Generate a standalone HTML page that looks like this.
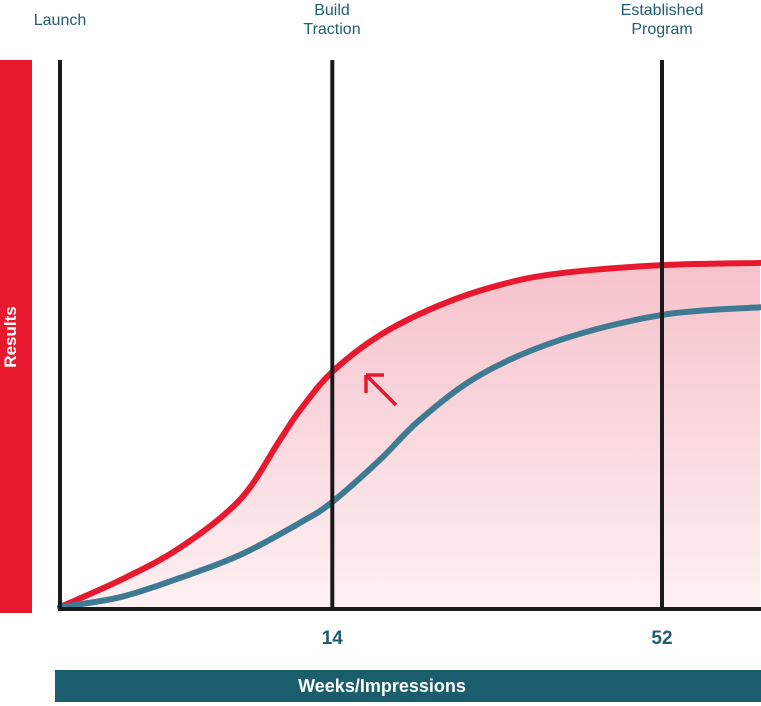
<!DOCTYPE html>
<html><head><meta charset="utf-8"><style>
html,body{margin:0;padding:0;background:#fff;}
svg{display:block;font-family:"Liberation Sans",sans-serif;}
</style></head><body>
<svg width="761" height="706" viewBox="0 0 761 706" id="chart">
<defs>
<linearGradient id="fillg" x1="0" y1="0" x2="0" y2="1">
<stop offset="0" stop-color="#f6c2cb"/><stop offset="1" stop-color="#fdf0f2"/>
</linearGradient>
</defs>
<g id="fills"></g>
<rect x="0" y="60" width="32" height="553" fill="#e8192f"/>
<text x="16" y="337" fill="#fff" font-size="17" font-weight="bold" text-anchor="middle" transform="rotate(-90 16 337)">Results</text>
<rect x="55" y="670" width="706" height="32" fill="#1a5e6d"/>
<text x="382" y="692" fill="#fff" font-size="18" font-weight="bold" text-anchor="middle">Weeks/Impressions</text>
<text x="60" y="25" fill="#1f5d70" font-size="16" text-anchor="middle">Launch</text>
<text x="332" y="15" fill="#1f5d70" font-size="16" text-anchor="middle">Build</text>
<text x="332" y="34" fill="#1f5d70" font-size="16" text-anchor="middle">Traction</text>
<text x="662" y="15" fill="#1f5d70" font-size="16" text-anchor="middle">Established</text>
<text x="662" y="34" fill="#1f5d70" font-size="16" text-anchor="middle">Program</text>
<g id="lines"></g>
<g id="axes"></g>
<path d="M396 405 L366 375 M366 375 L384 375 M366 375 L366 393" stroke="#e8192f" stroke-width="3.5" fill="none"/>
</svg>
<script>
const redX=[0,8.6,17.1,25.7,31.4,34.3,38.9,45.7,54.3,62.9,71.4,86,100];
const redY=[0,4.9,10.8,19.6,30.5,36,43,49.7,55.2,58.9,61,62.5,62.9];
const blueX=[0,8.6,17.1,25.7,34.3,38.9,45.7,51.4,60,71.4,86,100];
const blueY=[0,1.8,5.3,9.5,15.4,19.2,26.9,34.2,42.4,48.8,53.4,54.8];
const markerX=[0,38.9,86];
const markerLabels=["","14","52"];
const sx=v=>60+7*v, sy=v=>607-5.47*v;
const NS="http://www.w3.org/2000/svg";
function pathD(xs,ys){
  const p=xs.map((x,i)=>[sx(x),sy(ys[i])]);
  let d="M"+p[0][0]+" "+p[0][1];
  for(let i=0;i<p.length-1;i++){
    const p0=p[Math.max(i-1,0)],p1=p[i],p2=p[i+1],p3=p[Math.min(i+2,p.length-1)];
    const c1=[p1[0]+(p2[0]-p0[0])/6,p1[1]+(p2[1]-p0[1])/6];
    const c2=[p2[0]-(p3[0]-p1[0])/6,p2[1]-(p3[1]-p1[1])/6];
    d+=` C${c1[0]} ${c1[1]} ${c2[0]} ${c2[1]} ${p2[0]} ${p2[1]}`;
  }
  return d;
}
const fills=document.getElementById('fills'),lines=document.getElementById('lines'),axes=document.getElementById('axes');
const area=document.createElementNS(NS,'path');
area.setAttribute('d',pathD(redX,redY)+` L${sx(redX[redX.length-1])} ${sy(0)} L${sx(0)} ${sy(0)} Z`);
area.setAttribute('fill','url(#fillg)');


fills.appendChild(area);
markerX.forEach((m,i)=>{
  const l=document.createElementNS(NS,'line');
  l.setAttribute('x1',sx(m));l.setAttribute('x2',sx(m));l.setAttribute('y1',60);l.setAttribute('y2',611);
  l.setAttribute('stroke','#1a1a1a');l.setAttribute('stroke-width',4);
  
  
  axes.appendChild(l);
  if(markerLabels[i]){
    const t=document.createElementNS(NS,'text');
    t.setAttribute('x',sx(m));t.setAttribute('y',644);t.setAttribute('text-anchor','middle');
    t.setAttribute('font-size','19');t.setAttribute('font-weight','bold');t.setAttribute('fill','#1f5d70');
    t.textContent=markerLabels[i];
    
    
    axes.appendChild(t);
  }
});
const base=document.createElementNS(NS,'line');
base.setAttribute('x1',58);base.setAttribute('x2',761);base.setAttribute('y1',609);base.setAttribute('y2',609);
base.setAttribute('stroke','#1a1a1a');base.setAttribute('stroke-width',4);


axes.appendChild(base);
[[redX,redY,'#e8192f','red-series-line'],[blueX,blueY,'#3f7a93','blue-series-line']].forEach(s=>{
  const p=document.createElementNS(NS,'path');
  p.setAttribute('d',pathD(s[0],s[1]));p.setAttribute('fill','none');
  p.setAttribute('stroke',s[2]);p.setAttribute('stroke-width',6);p.setAttribute('stroke-linecap','round');
  
  
  lines.appendChild(p);
});
</script>
</body></html>
